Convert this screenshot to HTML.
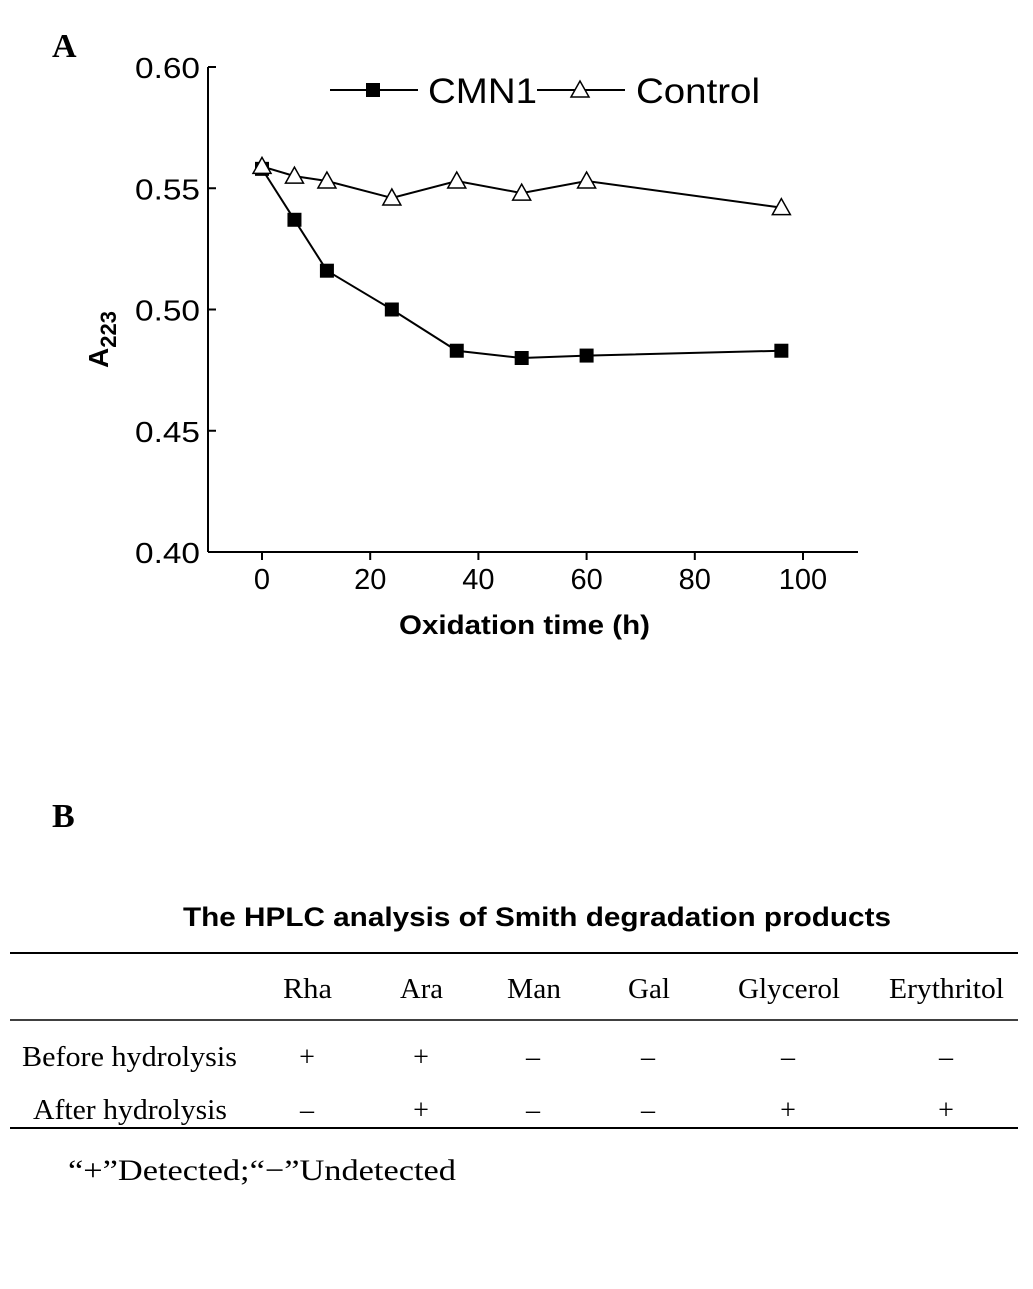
<!DOCTYPE html>
<html><head><meta charset="utf-8"><style>
body{margin:0;background:#fff;width:1033px;height:1289px;overflow:hidden}
svg{display:block}
.sans{font-family:"Liberation Sans",Arial,sans-serif}
.serif{font-family:"Liberation Serif","Times New Roman",serif}
</style></head><body>
<svg id="fig" width="1033" height="1289" viewBox="0 0 1033 1289">
<text x="52" y="57" class="serif" font-size="34" font-weight="bold">A</text>
<text x="52" y="827" class="serif" font-size="34" font-weight="bold">B</text>
<g id="chart"></g>
<text x="183" y="926" textLength="708" lengthAdjust="spacingAndGlyphs" class="sans" font-size="27" font-weight="bold">The HPLC analysis of Smith degradation products</text>
<line x1="10" y1="953" x2="1018" y2="953" stroke="#000" stroke-width="2"/>
<line x1="10" y1="1020" x2="1018" y2="1020" stroke="#000" stroke-width="1.5"/>
<line x1="10" y1="1128" x2="1018" y2="1128" stroke="#000" stroke-width="2"/>
<g class="serif" font-size="28">
<text x="283" y="998" textLength="49" lengthAdjust="spacingAndGlyphs">Rha</text>
<text x="400" y="998" textLength="43" lengthAdjust="spacingAndGlyphs">Ara</text>
<text x="507" y="998" textLength="54" lengthAdjust="spacingAndGlyphs">Man</text>
<text x="628" y="998" textLength="42" lengthAdjust="spacingAndGlyphs">Gal</text>
<text x="738" y="998" textLength="102" lengthAdjust="spacingAndGlyphs">Glycerol</text>
<text x="889" y="998" textLength="115" lengthAdjust="spacingAndGlyphs">Erythritol</text>
</g>
<g class="serif" font-size="28">
<text x="22" y="1066" textLength="215" lengthAdjust="spacingAndGlyphs">Before hydrolysis</text>
<g text-anchor="middle"><text x="307" y="1066">+</text><text x="421" y="1066">+</text><text x="533" y="1066">–</text><text x="648" y="1066">–</text><text x="788" y="1066">–</text><text x="946" y="1066">–</text></g>
</g>
<g class="serif" font-size="28">
<text x="33" y="1119" textLength="194" lengthAdjust="spacingAndGlyphs">After hydrolysis</text>
<g text-anchor="middle"><text x="307" y="1119">–</text><text x="421" y="1119">+</text><text x="533" y="1119">–</text><text x="648" y="1119">–</text><text x="788" y="1119">+</text><text x="946" y="1119">+</text></g>
</g>
<text x="68" y="1180" textLength="388" lengthAdjust="spacingAndGlyphs" class="serif" font-size="30">“+”Detected;“−”Undetected</text>
</svg>
<script>
const xValues=[0,6,12,24,36,48,60,96];
const cmn1Values=[0.558,0.537,0.516,0.500,0.483,0.480,0.481,0.483];
const controlValues=[0.559,0.555,0.553,0.546,0.553,0.548,0.553,0.542];
const yTicks=[0.40,0.45,0.50,0.55,0.60];
const xTicks=[0,20,40,60,80,100];
const NS='http://www.w3.org/2000/svg';
const g=document.getElementById('chart');
const X=v=>262+v*5.41, Y=v=>552-(v-0.40)*2425;
function mk(t,a){const e=document.createElementNS(NS,t);for(const k in a)e.setAttribute(k,a[k]);g.appendChild(e);return e;}
let e=mk('line',{x1:208,y1:67,x2:208,y2:552,stroke:'#000','stroke-width':2});


e=mk('line',{x1:208,y1:552,x2:858,y2:552,stroke:'#000','stroke-width':2});


yTicks.forEach(v=>{
 e=mk('line',{x1:208,y1:Y(v),x2:216,y2:Y(v),stroke:'#000','stroke-width':2});
 
 
 e=mk('text',{x:200,y:Y(v)+11,'text-anchor':'end','font-size':29,textLength:65,lengthAdjust:'spacingAndGlyphs',class:'sans'});e.textContent=v.toFixed(2);
 
 
});
xTicks.forEach(v=>{
 e=mk('line',{x1:X(v),y1:552,x2:X(v),y2:560,stroke:'#000','stroke-width':2});
 
 
 e=mk('text',{x:X(v),y:589,'text-anchor':'middle','font-size':29,class:'sans'});e.textContent=v;
 
 
});
e=mk('text',{x:399,y:634,textLength:251,lengthAdjust:'spacingAndGlyphs','font-size':27,'font-weight':'bold',class:'sans'});e.textContent='Oxidation time (h)';


e=mk('text',{x:0,y:0,transform:'translate(108,368) rotate(-90)','font-size':28,'font-weight':'bold',class:'sans'});
e.innerHTML='A<tspan font-size="22" dy="8">223</tspan>';


function tri(cx,cy){return `${cx},${cy-9} ${cx-9},${cy+7} ${cx+9},${cy+7}`;}
e=mk('polyline',{points:xValues.map((x,i)=>X(x)+','+Y(controlValues[i])).join(' '),fill:'none',stroke:'#000','stroke-width':2});


e=mk('polyline',{points:xValues.map((x,i)=>X(x)+','+Y(cmn1Values[i])).join(' '),fill:'none',stroke:'#000','stroke-width':2});


xValues.forEach((x,i)=>{
 e=mk('rect',{x:X(x)-7,y:Y(cmn1Values[i])-7,width:14,height:14,fill:'#000'});
 
 
});
xValues.forEach((x,i)=>{
 e=mk('polygon',{points:tri(X(x),Y(controlValues[i])),fill:'#fff',stroke:'#000','stroke-width':1.5});
 
 
});
e=mk('line',{x1:330,y1:90,x2:418,y2:90,stroke:'#000','stroke-width':2});


e=mk('rect',{x:366,y:83,width:14,height:14,fill:'#000'});


e=mk('text',{x:428,y:103,textLength:109,lengthAdjust:'spacingAndGlyphs','font-size':35,class:'sans'});e.textContent='CMN1';


e=mk('line',{x1:537,y1:90,x2:625,y2:90,stroke:'#000','stroke-width':2});


e=mk('polygon',{points:tri(580,90),fill:'#fff',stroke:'#000','stroke-width':1.5});


e=mk('text',{x:636,y:103,textLength:124,lengthAdjust:'spacingAndGlyphs','font-size':35,class:'sans'});e.textContent='Control';


</script>
</body></html>
